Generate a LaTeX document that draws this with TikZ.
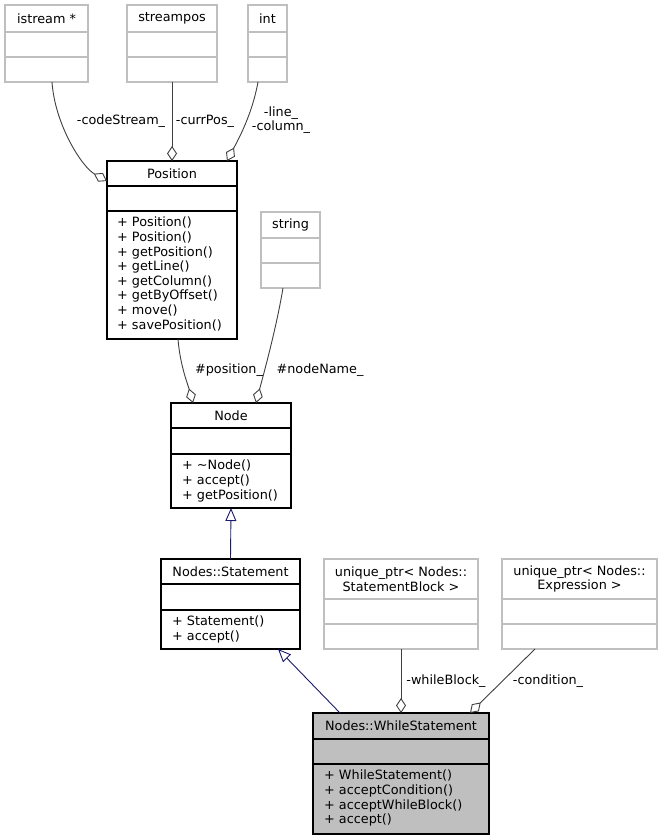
\documentclass[tikz,border=0pt]{standalone}
\usepackage{fontspec}
\setmainfont{DejaVu Sans}
\usetikzlibrary{arrows.meta}
\definecolor{extgray}{HTML}{BFBFBF}
\definecolor{edgegray}{HTML}{404040}
\definecolor{inhblue}{HTML}{191970}
\definecolor{curfill}{HTML}{BFBFBF}

\newcommand{\umlbox}[8]{%
  \node[#1, minimum width=#5pt, minimum height=#6pt] (#2) at (#3,#4) {};
  \draw[#1divider] ([yshift=-#7pt]#2.north west) -- ([yshift=-#7pt]#2.north east);
  \draw[#1divider] ([yshift=-#8pt]#2.north west) -- ([yshift=-#8pt]#2.north east);
}

\tikzset{
  cls/.style={draw=black, line width=1.1pt, inner sep=0pt, outer sep=0pt, anchor=north west, fill=white},
  clsdivider/.style={draw=black, line width=1.1pt},
  ext/.style={draw=extgray, line width=1.1pt, inner sep=0pt, outer sep=0pt, anchor=north west, fill=white},
  extdivider/.style={draw=extgray, line width=1.1pt},
  cur/.style={draw=black, line width=1.1pt, inner sep=0pt, outer sep=0pt, anchor=north west, fill=curfill},
  curdivider/.style={draw=black, line width=1.1pt},
  title/.style={inner sep=0pt, align=center},
  members/.style={inner sep=0pt, align=left, anchor=north west},
  lbl/.style={inner sep=0pt, align=center},
  agg/.style={draw=edgegray, line width=0.9pt, -{Diamond[open, length=15pt, width=10pt, line width=0.9pt]}},
  inh/.style={draw=inhblue, line width=0.9pt, -{Triangle[open, length=13pt, width=11pt, line width=0.9pt]}},
}

\begin{document}
\begin{tikzpicture}[x=1pt, y=-1pt, font=\fontsize{12.8}{14.6}\selectfont]
\useasboundingbox (0,0) rectangle (663,840);
\fill[white] (0,0) rectangle (663,840);

% boxes
\umlbox{ext}{istream}{5}{5}{83}{77}{27}{52}
\umlbox{ext}{streampos}{127}{5}{90}{77}{27}{52}
\umlbox{ext}{int}{248}{5}{39}{77}{27}{52}
\umlbox{cls}{Position}{107}{161}{130}{178}{25}{50}
\umlbox{ext}{string}{261}{212}{59}{76}{26}{51}
\umlbox{cls}{Node}{171}{403}{120}{105}{25}{51}
\umlbox{cls}{Statement}{161}{559}{139}{90}{25}{51}
\umlbox{ext}{ublock}{324}{559}{154}{90}{40}{65}
\umlbox{ext}{uexpr}{502}{559}{155}{90}{40}{65}
\umlbox{cur}{While}{313}{713}{176}{121}{26}{51}

% titles
\node[title] (tistream) at (46.5,18.5) {istream *};
\node[title] (tstreampos) at (172,18.5) {streampos};
\node[title] (tint) at (267.5,18.5) {int};
\node[title] (tPosition) at (172,173.5) {Position};
\node[title] (tstring) at (290.5,225) {string};
\node[title] (tNode) at (231,415.5) {Node};
\node[title] (tStatement) at (230.5,571.5) {Nodes::Statement};
\node[title] (tublock) at (401,579) {unique\_ptr< Nodes::\\StatementBlock >};
\node[title] (tuexpr) at (579.5,579) {unique\_ptr< Nodes::\\Expression >};
\node[title] (tWhile) at (401,726) {Nodes::WhileStatement};

% members
\node[members] (mPosition) at ([xshift=10pt,yshift=-56pt]Position.north west)
  {+ Position()\\+ Position()\\+ getPosition()\\+ getLine()\\+ getColumn()\\+ getByOffset()\\+ move()\\+ savePosition()};
\node[members] (mNode) at ([xshift=11pt,yshift=-57pt]Node.north west)
  {+ \textasciitilde Node()\\+ accept()\\+ getPosition()};
\node[members] (mStatement) at ([xshift=11pt,yshift=-57pt]Statement.north west)
  {+ Statement()\\+ accept()};
\node[members] (mWhile) at ([xshift=11pt,yshift=-57pt]While.north west)
  {+ WhileStatement()\\+ acceptCondition()\\+ acceptWhileBlock()\\+ accept()};

% connectors
\draw[agg] ([xshift=47pt]istream.south west) .. controls (55,125) and (82,167) .. ([yshift=-20pt]Position.north west);
\draw[agg] (streampos.south) -- (Position.north);
\draw[agg] ([xshift=10pt]int.south west) .. controls (252,115) and (238,140) .. ([xshift=-10pt]Position.north east);
\draw[agg] ([xshift=71pt]Position.south west) .. controls (180,365) and (188,385) .. ([xshift=22pt]Node.north west);
\draw[agg] ([xshift=22pt]string.south west) .. controls (276,330) and (262,380) .. ([xshift=85pt]Node.north west);
\draw[inh] (Statement.north) -- (Node.south);
\draw[inh] ([xshift=27pt]While.north west) -- ([xshift=117pt]Statement.south west);
\draw[agg] (ublock.south) -- (While.north);
\draw[agg] ([xshift=33pt]uexpr.south west) -- ([xshift=157pt]While.north west);

% labels
\node[lbl] (lcode) at (121,121) {-codeStream\_};
\node[lbl] (lcurr) at (205,121) {-currPos\_};
\node[lbl] (lline) at (281,120) {-line\_\\-column\_};
\node[lbl] (lpos) at (229,370) {\#position\_};
\node[lbl] (lname) at (320,370) {\#nodeName\_};
\node[lbl] (lwhile) at (446,681) {-whileBlock\_};
\node[lbl] (lcond) at (548,681) {-condition\_};
\end{tikzpicture}
\end{document}
